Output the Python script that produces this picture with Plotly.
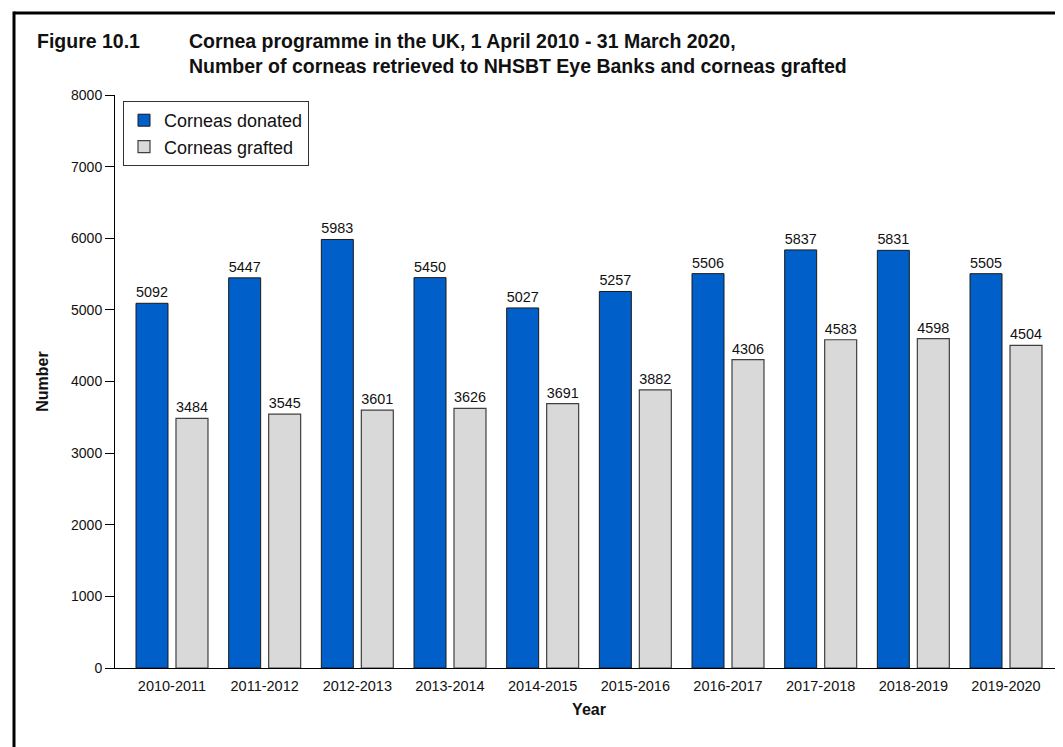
import plotly.graph_objects as go

years = ["2010-2011", "2011-2012", "2012-2013", "2013-2014", "2014-2015",
         "2015-2016", "2016-2017", "2017-2018", "2018-2019", "2019-2020"]
donated = [5092, 5447, 5983, 5450, 5027, 5257, 5506, 5837, 5831, 5505]
grafted = [3484, 3545, 3601, 3626, 3691, 3882, 4306, 4583, 4598, 4504]

FONT = "Liberation Sans, Arial, sans-serif"
W, H = 1063, 747
L, R, T, B = 107, 8, 87, 87
pw, ph = W - L - R, H - T - B

def px_x(p):
    return (p - L) / pw

def px_y(p):
    return (H - B - p) / ph

fig = go.Figure()
fig.add_trace(go.Bar(
    name="Corneas donated", x=years, y=donated,
    marker=dict(color="#005FC8", line=dict(color="#1a1a1a", width=1)),
    text=donated, textposition="outside", cliponaxis=False,
    textfont=dict(size=14.5, color="#111", family=FONT),
))
fig.add_trace(go.Bar(
    name="Corneas grafted", x=years, y=grafted,
    marker=dict(color="#D9D9D9", line=dict(color="#404040", width=1.2)),
    text=grafted, textposition="outside", cliponaxis=False,
    textfont=dict(size=14.5, color="#111", family=FONT),
))

fig.update_layout(
    width=W, height=H,
    margin=dict(l=L, r=R, t=T, b=B),
    paper_bgcolor="white", plot_bgcolor="white",
    barmode="group", bargap=0.137, bargroupgap=0.2,
    font=dict(family=FONT, size=14, color="#111"),
    showlegend=True,
    legend=dict(x=px_x(115), y=px_y(93), xanchor="left", yanchor="top",
                bordercolor="#333", borderwidth=1, bgcolor="white",
                font=dict(size=18, color="#111", family=FONT),
                tracegroupgap=0, itemwidth=30),
    xaxis=dict(range=[-0.615, 9.615], showline=True, linecolor="black", linewidth=1,
               ticks="outside", ticklen=5, tickcolor="rgba(0,0,0,0)", showgrid=False,
               tickfont=dict(size=14.5),
               title=dict(text="<b>Year</b>", font=dict(size=16), standoff=10)),
    yaxis=dict(range=[0, 8000], dtick=1000, showline=True, linecolor="black", linewidth=1,
               ticks="outside", ticklen=9, tickcolor="black", showgrid=False, zeroline=False,
               tickfont=dict(size=14),
               title=dict(text="<b>Number</b>", font=dict(size=16), standoff=18)),
)

TFONT = dict(size=19.5, family="Liberation Sans, Arial", color="#111")
fig.add_annotation(xref="paper", yref="paper", x=px_x(27), y=px_y(33),
                   xanchor="left", yanchor="middle", showarrow=False,
                   text="<b>Figure 10.1</b>", font=TFONT)
fig.add_annotation(xref="paper", yref="paper", x=px_x(179), y=px_y(33),
                   xanchor="left", yanchor="middle", showarrow=False,
                   text="<b>Cornea programme in the UK, 1 April 2010 - 31 March 2020,</b>",
                   font=TFONT)
fig.add_annotation(xref="paper", yref="paper", x=px_x(179), y=px_y(58),
                   xanchor="left", yanchor="middle", showarrow=False,
                   text="<b>Number of corneas retrieved to NHSBT Eye Banks and corneas grafted</b>",
                   font=TFONT)

# page frame (top and left edges)
fig.add_shape(type="line", xref="paper", yref="paper",
              x0=px_x(6), x1=px_x(W + 5), y0=px_y(5), y1=px_y(5),
              line=dict(color="black", width=3))
fig.add_shape(type="line", xref="paper", yref="paper",
              x0=px_x(6), x1=px_x(6), y0=px_y(3.5), y1=px_y(H + 5),
              line=dict(color="black", width=3))

fig.write_html("out.html")
